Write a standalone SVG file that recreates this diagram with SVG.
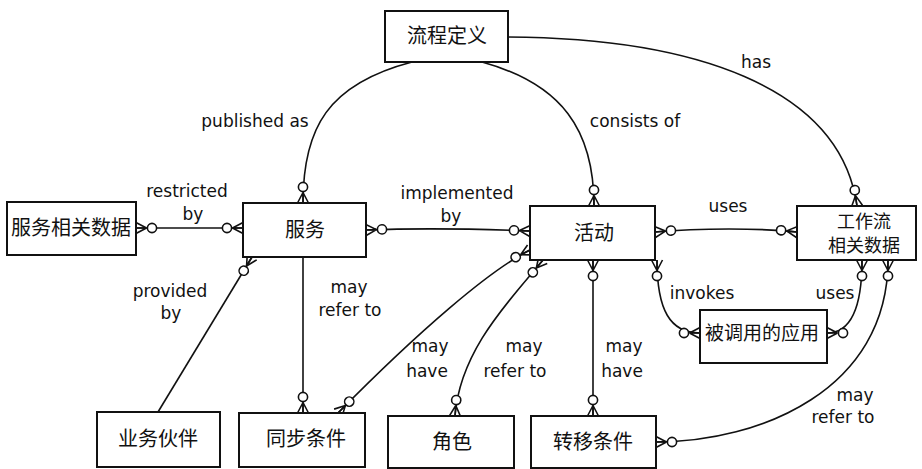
<svg xmlns="http://www.w3.org/2000/svg" width="922" height="469" viewBox="0 0 922 469">
<style>
  .box { fill: #fff; stroke: #111; stroke-width: 2; }
  .cn { font-family: "Noto Sans CJK SC", "Noto Sans", sans-serif; font-size: 20px; fill: #111; text-anchor: middle; }
  .lbl { font-family: "DejaVu Sans", "Liberation Sans", sans-serif; font-size: 17px; fill: #111; text-anchor: middle; }
  .ln { fill: none; stroke: #111; stroke-width: 1.6; }
</style>
<defs>
  <marker id="zm" markerUnits="userSpaceOnUse" markerWidth="30" markerHeight="20" refX="26" refY="10" orient="auto-start-reverse" overflow="visible">
    <circle cx="10" cy="10" r="4.6" fill="#fff" stroke="#111" stroke-width="1.6"/>
    <path d="M15.5 10 L26 4.5 M15.5 10 L26 15.5 M15.5 10 L26 10" fill="none" stroke="#111" stroke-width="1.6"/>
  </marker>
</defs>
<rect width="922" height="469" fill="#fff"/>

<g id="connectors">
  <path class="ln" d="M412 62 C328 84, 303 128, 303 203" marker-end="url(#zm)"/>
  <path class="ln" d="M482 62 C562 84, 594 130, 594 206" marker-end="url(#zm)"/>
  <path class="ln" d="M508 37 C690 38, 840 85, 857 206" marker-end="url(#zm)"/>
  <path class="ln" d="M136 228 L243 228" marker-start="url(#zm)" marker-end="url(#zm)"/>
  <path class="ln" d="M366 230 C420 228, 480 229, 530 231" marker-start="url(#zm)" marker-end="url(#zm)"/>
  <path class="ln" d="M655 232 C700 228, 760 228, 797 232" marker-start="url(#zm)" marker-end="url(#zm)"/>
  <path class="ln" d="M657 260 C657 310, 670 333, 700 333" marker-start="url(#zm)" marker-end="url(#zm)"/>
  <path class="ln" d="M862 260 C862 310, 850 333, 827 333" marker-start="url(#zm)" marker-end="url(#zm)"/>
  <path class="ln" d="M888 260 C888 390, 760 442, 656 442" marker-start="url(#zm)" marker-end="url(#zm)"/>
  <path class="ln" d="M252 257 L158 412" marker-start="url(#zm)"/>
  <path class="ln" d="M303 257 L303 413" marker-end="url(#zm)"/>
  <path class="ln" d="M530 250 C490 270, 420 330, 338 413" marker-start="url(#zm)" marker-end="url(#zm)"/>
  <path class="ln" d="M543 260 C510 300, 460 350, 455 416" marker-start="url(#zm)" marker-end="url(#zm)"/>
  <path class="ln" d="M593 260 L593 416" marker-start="url(#zm)" marker-end="url(#zm)"/>

  <text class="lbl" x="255" y="127">published as</text>
  <text class="lbl" x="635" y="127">consists of</text>
  <text class="lbl" x="756" y="68">has</text>
  <text class="lbl" x="187" y="197">restricted</text>
  <text class="lbl" x="193" y="220">by</text>
  <text class="lbl" x="457" y="199">implemented</text>
  <text class="lbl" x="451" y="222">by</text>
  <text class="lbl" x="728" y="212">uses</text>
  <text class="lbl" x="702" y="299">invokes</text>
  <text class="lbl" x="835" y="299">uses</text>
  <text class="lbl" x="170" y="297">provided</text>
  <text class="lbl" x="171" y="319">by</text>
  <text class="lbl" x="349" y="293">may</text>
  <text class="lbl" x="350" y="316">refer to</text>
  <text class="lbl" x="430" y="352">may</text>
  <text class="lbl" x="427" y="377">have</text>
  <text class="lbl" x="524" y="352">may</text>
  <text class="lbl" x="515" y="377">refer to</text>
  <text class="lbl" x="624" y="352">may</text>
  <text class="lbl" x="622" y="377">have</text>
  <text class="lbl" x="855" y="401">may</text>
  <text class="lbl" x="843" y="423">refer to</text>
</g>

<g id="n-liucheng"><rect class="box" x="385" y="11" width="123" height="51"/><text class="cn" x="447" y="43">流程定义</text></g>
<g id="n-fwxgsj"><rect class="box" x="7" y="202" width="129" height="53"/><text class="cn" x="71" y="235">服务相关数据</text></g>
<g id="n-fuwu"><rect class="box" x="243" y="203" width="123" height="54"/><text class="cn" x="305" y="237">服务</text></g>
<g id="n-huodong"><rect class="box" x="530" y="206" width="125" height="54"/><text class="cn" x="594" y="240">活动</text></g>
<g id="n-gzlsj"><rect class="box" x="797" y="206" width="119" height="54"/><text class="cn" x="864" y="228" style="font-size:18px">工作流</text><text class="cn" x="864" y="252" style="font-size:18px">相关数据</text></g>
<g id="n-bdy"><rect class="box" x="700" y="310" width="127" height="53"/><text class="cn" x="762" y="340" style="font-size:19px">被调用的应用</text></g>
<g id="n-ywhb"><rect class="box" x="97" y="412" width="123" height="55"/><text class="cn" x="158" y="446">业务伙伴</text></g>
<g id="n-tbtj"><rect class="box" x="239" y="413" width="126" height="54"/><text class="cn" x="306" y="446">同步条件</text></g>
<g id="n-juese"><rect class="box" x="388" y="416" width="126" height="52"/><text class="cn" x="452" y="449">角色</text></g>
<g id="n-zytj"><rect class="box" x="531" y="416" width="125" height="52"/><text class="cn" x="593" y="449">转移条件</text></g>
</svg>
